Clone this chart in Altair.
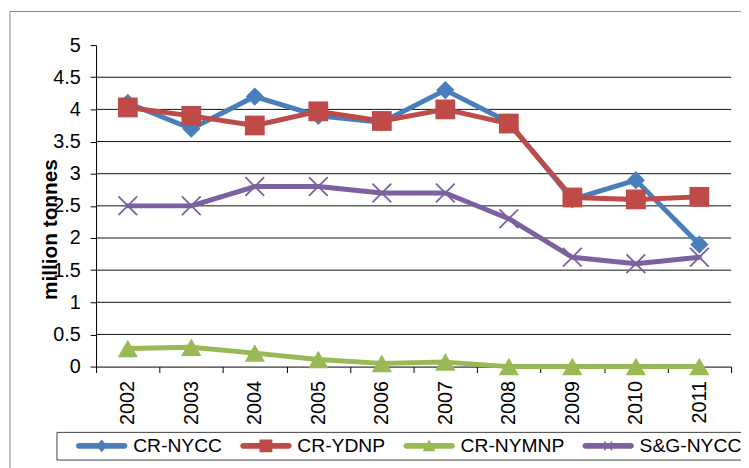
import altair as alt
import pandas as pd

# ---- data ----
years = [2002, 2003, 2004, 2005, 2006, 2007, 2008, 2009, 2010, 2011]
series_names = ["CR-NYCC", "CR-YDNP", "CR-NYMNP", "S&G-NYCC"]
cr_nycc = [4.1, 3.7, 4.2, 3.9, 3.8, 4.3, 3.8, 2.6, 2.9, 1.9]
cr_ydnp = [4.03, 3.9, 3.75, 3.97, 3.82, 4.0, 3.78, 2.63, 2.6, 2.64]
cr_nymnp = [0.28, 0.3, 0.21, 0.11, 0.05, 0.07, 0.0, 0.0, 0.0, 0.0]
sg_nycc = [2.5, 2.5, 2.8, 2.8, 2.7, 2.7, 2.3, 1.7, 1.6, 1.7]
y_ticks = [0, 0.5, 1, 1.5, 2, 2.5, 3, 3.5, 4, 4.5, 5]
grid_values = [0.5, 1, 1.5, 2, 2.5, 3, 3.5, 4, 4.5]
colors = ["#4A7EBB", "#BE4B48", "#98B954", "#7D60A0"]

# ---- styling ----
FONT = "Liberation Sans"
W, H = 642, 325
x_tick_values = [y - 0.5 for y in years] + [years[-1] + 0.5]
band = W / len(years)

marker_shapes = ["diamond", "square", "triangle-up", "M-1,-1L1,1M-1,1L1,-1"]
marker_sizes = [340, 400, 420, 360]

# legend symbols: rounded line segment + marker (unit = 9px)
LINE = "M1,-0.333H6.111A0.333,0.333,0,0,1,6.111,0.333H1A0.333,0.333,0,0,1,1,-0.333Z"
legend_paths = [
    LINE + "M3.556,-0.722L4.167,0L3.556,0.722L2.944,0Z",
    LINE + "M2.833,-0.722H4.278V0.722H2.833Z",
    LINE + "M3.556,-0.722L4.278,0.611H2.833Z",
    LINE + "M3.056,-0.45L3.156,-0.55L4.056,0.45L3.956,0.55Z"
         + "M3.056,0.45L3.956,-0.55L4.056,-0.45L3.156,0.55Z",
]

rows = []
for name, vals in zip(series_names, [cr_nycc, cr_ydnp, cr_nymnp, sg_nycc]):
    for yr, v in zip(years, vals):
        rows.append({"year": yr, "value": v, "series": name})
df = pd.DataFrame(rows)
grid_df = pd.DataFrame({"value": grid_values})
one = pd.DataFrame({"a": [0]})

x_enc = alt.X(
    "year:Q",
    scale=alt.Scale(domain=[years[0] - 0.5, years[-1] + 0.5], nice=False, zero=False),
    axis=alt.Axis(
        values=x_tick_values,
        labelExpr=f"datum.value > {years[-1]} ? '' : toString(datum.value + 0.5)",
        labelAngle=270,
        labelOffset=band / 2,
        labelFlush=False,
        labelOverlap=False,
        labelPadding=8,
        labelFont=FONT,
        labelFontSize=20,
        labelColor="black",
        tickSize=6,
        tickColor="black",
        domainColor="black",
        grid=False,
        title=None,
    ),
)
y_enc = alt.Y(
    "value:Q",
    scale=alt.Scale(domain=[0, 5], nice=False),
    axis=alt.Axis(
        values=y_ticks,
        format="~g",
        labelFont=FONT,
        labelFontSize=20,
        labelColor="black",
        labelPadding=10,
        tickSize=6,
        tickColor="black",
        domainColor="black",
        grid=False,
        title="million tonnes",
        titleFont=FONT,
        titleFontSize=21,
        titleFontWeight="bold",
        titleColor="black",
        titleAngle=270,
        titleAlign="center",
        titleBaseline="middle",
        titleX=-46,
        titleY=186,
    ),
)

frame_top = alt.Chart(one).mark_rule(color="#868686", strokeWidth=1).encode(
    x=alt.value(-87), x2=alt.value(760), y=alt.value(-34)
)
frame_left = alt.Chart(one).mark_rule(color="#868686", strokeWidth=1).encode(
    x=alt.value(-87), y=alt.value(-34), y2=alt.value(520)
)
grid = alt.Chart(grid_df).mark_rule(color="#111111", strokeWidth=1).encode(y=y_enc)

layers = [frame_top, frame_left, grid]
for i, name in enumerate(series_names):
    sub = df[df["series"] == name]
    line = alt.Chart(sub).mark_line(
        color=colors[i], strokeWidth=5, strokeJoin="round", strokeCap="round"
    ).encode(x=x_enc, y=y_enc)
    if i == 3:
        pts = alt.Chart(sub).mark_point(
            shape=marker_shapes[i], size=marker_sizes[i], filled=False,
            color=colors[i], strokeWidth=1.8, opacity=1
        ).encode(x=x_enc, y=y_enc)
    else:
        pts = alt.Chart(sub).mark_point(
            shape=marker_shapes[i], size=marker_sizes[i], filled=True,
            color=colors[i], strokeWidth=0, opacity=1
        ).encode(x=x_enc, y=y_enc)
    layers += [line, pts]

leg = alt.Legend(
    title=None,
    orient="none",
    legendX=-40,
    legendY=391,
    direction="horizontal",
    columns=4,
    columnPadding=2,
    symbolSize=324,
    symbolOffset=0,
    labelOffset=54,
    symbolStrokeWidth=0,
    labelFont=FONT,
    labelFontSize=19.5,
    labelColor="black",
    labelLimit=300,
    padding=4,
    strokeColor="#404040",
    fillColor="white",
)
legend_layer = alt.Chart(df).mark_point(filled=True, opacity=1).encode(
    x=x_enc,
    y=y_enc,
    color=alt.Color("series:N", scale=alt.Scale(domain=series_names, range=colors), legend=leg),
    shape=alt.Shape("series:N", scale=alt.Scale(domain=series_names, range=legend_paths), legend=leg),
).transform_filter("false")
layers.append(legend_layer)

chart = alt.layer(*layers).properties(
    width=W,
    height=H,
    padding={"left": 89, "top": 35, "right": 10, "bottom": 100},
    autosize=alt.AutoSizeParams(type="none"),
    background="white",
).configure_view(stroke=None)

chart.save("out.html", embed_options={"renderer": "svg", "actions": False})
